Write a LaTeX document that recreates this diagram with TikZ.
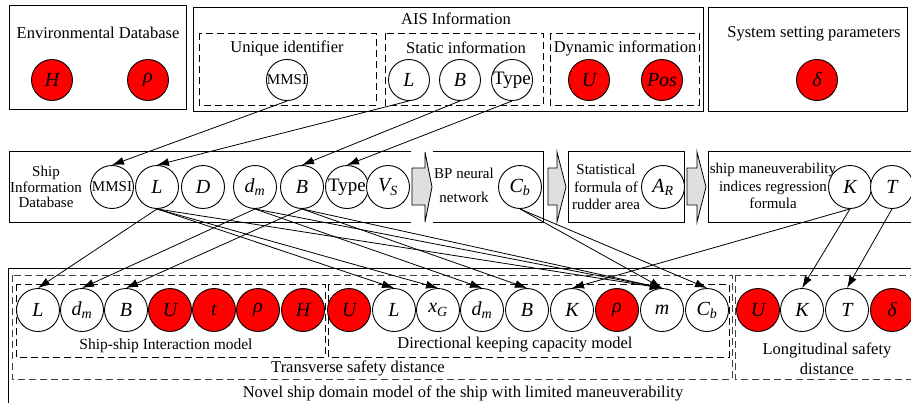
\documentclass[tikz,border=0pt]{standalone}
\usepackage{fontspec}
\setmainfont{Liberation Serif}
\usetikzlibrary{arrows.meta}
\begin{document}
\begin{tikzpicture}[x=1pt,y=-1pt,
  box/.style={draw, line width=0.9pt},
  dbox/.style={draw, dash pattern=on 7pt off 4pt, line width=0.9pt},
  gdbox/.style={dbox, draw=black!75},
  vc/.style={circle, draw, fill=white, line width=0.9pt, minimum size=43pt, inner sep=0pt, font=\fontsize{20}{20}\selectfont\itshape},
  vt/.style={vc, minimum size=41pt},
  hot/.style={fill=red},
  mm/.style={font=\fontsize{15}{15}\selectfont},
  ty/.style={font=\fontsize{19}{19}\selectfont},
  lbl/.style={font=\fontsize{16.5}{19}\selectfont, align=center, inner sep=0pt},
  slbl/.style={font=\fontsize{15}{17.5}\selectfont, align=center, inner sep=0pt},
  conn/.style={-{Latex[length=12pt,width=8pt]}, line width=0.8pt},
  barrow/.style={draw, fill=gray!25, line width=0.8pt, line join=miter}
]
\useasboundingbox (0,0) rectangle (911,402);

% ---------- top row boxes ----------
\draw[box] (9,5) rectangle (186,109);
\draw[box] (193,7) rectangle (703,111);
\draw[dbox] (199,33) rectangle (376,105);
\draw[dbox] (385,33) rectangle (543,105);
\draw[dbox] (550,33) rectangle (699,105);
\draw[box] (708,7) rectangle (907,111);

\node[lbl] (tEnv) at (98,33) {Environmental Database};
\node[lbl] (tAIS) at (456,19) {AIS Information};
\node[lbl] (tUid) at (287,48) {Unique identifier};
\node[lbl] (tSta) at (466,48) {Static information};
\node[lbl] (tDyn) at (625,48) {Dynamic information};
\node[lbl] (tSys) at (814,34) {System setting parameters};

\node[vt,hot] (tH) at (52,80) {H};
\node[vt,hot] (trho) at (148,80) {ρ};
\node[vt,mm] (tMMSI) at (287,80) {MMSI};
\node[vt] (tL) at (409,80) {L};
\node[vt] (tB) at (460,80) {B};
\node[vt,ty] (tType) at (512,80) {Type};
\node[vt,hot] (tU) at (589,80) {U};
\node[vt,hot] (tPos) at (662,80) {Pos};
\node[vt,hot] (tdelta) at (817,80) {δ};

% ---------- second row boxes ----------
\draw[box] (411,151) -- (9,151) -- (9,222) -- (411,222);
\draw[box] (433,151) -- (543,151) -- (543,222) -- (433,222);
\draw[box] (568,151) rectangle (684,222);
\draw[box] (920,151) -- (708,151) -- (708,222) -- (920,222);

\draw[barrow] (412,168) -- (425,168) -- (425,152) -- (432,187) -- (425,222) -- (425,205) -- (412,205) -- cycle;
\draw[barrow] (548,168) -- (557,168) -- (557,152) -- (566,187) -- (557,222) -- (557,205) -- (548,205) -- cycle;
\draw[barrow] (687,168) -- (697,168) -- (697,152) -- (706,187) -- (697,222) -- (697,205) -- (687,205) -- cycle;

\node[slbl, font=\fontsize{15}{15.5}\selectfont] (sDBt) at (46,187) {Ship\\Information\\Database};
\node[slbl, font=\fontsize{15}{24}\selectfont] (sBPt) at (464,185) {BP neural\\network};
\node[slbl] (sSFt) at (606,187) {Statistical\\formula of\\rudder area};
\node[slbl] (sMIt) at (773,186) {ship maneuverability\\indices regression\\formula};

\node[vc,mm] (sMMSI) at (112,187) {MMSI};
\node[vc] (sL) at (157,187) {L};
\node[vc] (sD) at (203,187) {D};
\node[vc] (sdm) at (255,187) {d\textsubscript{m}};
\node[vc] (sB) at (302,187) {B};
\node[vc,ty] (sType) at (347,187) {Type};
\node[vc] (sVS) at (388,187) {V\textsubscript{S}};
\node[vc] (sCb) at (520,187) {C\textsubscript{b}};
\node[vc] (sAR) at (663,187) {A\textsubscript{R}};
\node[vc] (sK) at (850,187) {K};
\node[vc] (sT) at (892,187) {T};

% ---------- third row boxes ----------
\draw[box] (8,268) rectangle (920,415);
\draw[gdbox] (12,275) rectangle (732,379);
\draw[gdbox] (735,275) rectangle (920,379);
\draw[dbox] (16,284) rectangle (325,357);
\draw[dbox] (328,284) rectangle (729,357);

\node[lbl, font=\fontsize{15.5}{19}\selectfont] (rSSt) at (166,346) {Ship-ship Interaction model};
\node[lbl] (rDKt) at (515,345) {Directional keeping capacity model};
\node[lbl] (rTSt) at (358,368) {Transverse safety distance};
\node[lbl, font=\fontsize{16.5}{20}\selectfont] (rLSt) at (827,359) {Longitudinal safety\\distance};
\node[lbl] (rNov) at (463,393) {Novel ship domain model of the ship with limited maneuverability};

\node[vc] (r1L) at (38,310) {L};
\node[vc] (r1dm) at (82,310) {d\textsubscript{m}};
\node[vc] (r1B) at (126,310) {B};
\node[vc,hot] (r1U) at (170,310) {U};
\node[vc,hot] (r1t) at (214,310) {t};
\node[vc,hot] (r1rho) at (258,310) {ρ};
\node[vc,hot] (r1H) at (303,310) {H};
\node[vc,hot] (r2U) at (349,310) {U};
\node[vc] (r2L) at (394,310) {L};
\node[vc] (r2xG) at (438,310) {x\textsubscript{G}};
\node[vc] (r2dm) at (482,310) {d\textsubscript{m}};
\node[vc] (r2B) at (527,310) {B};
\node[vc] (r2K) at (572,310) {K};
\node[vc,hot] (r2rho) at (617,310) {ρ};
\node[vc] (r2m) at (662,310) {m};
\node[vc] (r2Cb) at (707,310) {C\textsubscript{b}};
\node[vc,hot] (r3U) at (758,310) {U};
\node[vc] (r3K) at (802,310) {K};
\node[vc] (r3T) at (847,310) {T};
\node[vc,hot] (r3delta) at (892,310) {δ};

% ---------- connectors ----------
\draw[conn] (tMMSI.south) -- (sMMSI.north);
\draw[conn] (tL.south) -- (sL.north);
\draw[conn] (tB.south) -- (sB.north);
\draw[conn] (tType.south) -- (sType.north);

\draw[conn] (sL.south) -- (r1L.north);
\draw[conn] (sL.south) -- (r2L.north);
\draw[conn] (sL.south) -- (r2xG.north);
\draw[conn] (sL.south) -- (r2m.north);
\draw[conn] (sdm.south) -- (r1dm.north);
\draw[conn] (sdm.south) -- (r2dm.north);
\draw[conn] (sdm.south) -- (r2m.north);
\draw[conn] (sB.south) -- (r1B.north);
\draw[conn] (sB.south) -- (r2B.north);
\draw[conn] (sB.south) -- (r2m.north);
\draw[conn] (sCb.south) -- (r2m.north);
\draw[conn] (sCb.south) -- (r2Cb.north);
\draw[conn] (sK.south) -- (r2K.north);
\draw[conn] (sK.south) -- (r3K.north);
\draw[conn] (sT.south) -- (r3T.north);
\end{tikzpicture}
\end{document}
